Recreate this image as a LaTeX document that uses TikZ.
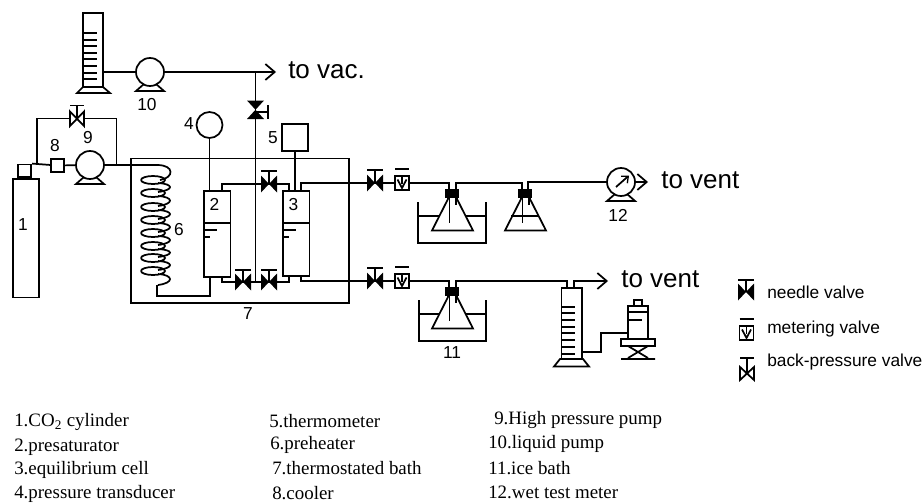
\documentclass[tikz,border=0pt]{standalone}
\usepackage{fontspec}
\setmainfont{Liberation Serif}
\newfontfamily\arial{Liberation Sans}
\usetikzlibrary{arrows.meta}
\tikzset{
 pipe/.style={line width=1.3pt,line join=miter},
 arrowpipe/.style={pipe,-{Straight Barb[length=7pt,width=12pt,line width=1.3pt]}},
 lab/.style={inner sep=0pt,font=\arial\fontsize{13}{15}\selectfont},
 big/.style={inner sep=0pt,anchor=west,font=\arial\fontsize{19.5}{22}\selectfont},
 leg/.style={inner sep=0pt,anchor=west,font=\arial\fontsize{13}{15}\selectfont},
 item/.style={inner sep=0pt,anchor=west,font=\fontsize{14.2}{16}\selectfont},
 pumpc/.style={circle,draw,line width=1.3pt,minimum size=21pt,inner sep=0pt,fill=white},
 box/.style={rectangle,draw,line width=1.3pt,inner sep=0pt,fill=white},
}
\newcommand{\pumpstand}[1]{\draw[pipe] ([shift={(-6,12)}]#1.center) -- ([shift={(-14,19)}]#1.center) -- ([shift={(14,19)}]#1.center) -- ([shift={(6,12)}]#1.center);}
\newcommand{\needleH}[2]{%
 \fill ([shift={(-8,-8.5)}]#1) -- ([shift={(8,8.5)}]#1) -- ([shift={(8,-8.5)}]#1) -- ([shift={(-8,8.5)}]#1) -- cycle;
 \draw[pipe] (#1) -- ([shift={(0,-#2)}]#1) ([shift={(-8,-#2)}]#1) -- ([shift={(8,-#2)}]#1);}
\newcommand{\meterV}[1]{%
 \node[box,minimum width=10.5pt,minimum height=10.5pt] (m#1) at (#1) {};
 \draw[pipe] (m#1.north) -- ([yshift=-6.5]m#1.north) ([shift={(-7,-6.5)}]m#1.north) -- ([shift={(7,-6.5)}]m#1.north);
 \draw[pipe] ([shift={(-4.5,-3.5)}]#1) -- ([shift={(0,5)}]#1) -- ([shift={(4.5,-3.5)}]#1);}
\newcommand{\flask}[1]{%
 \draw[pipe,fill=white] ([shift={(-4,8)}]#1) -- ([shift={(-4,16)}]#1) -- ([shift={(-20,47.5)}]#1) -- ([shift={(21,47.5)}]#1) -- ([shift={(5,16)}]#1) -- ([shift={(5,8)}]#1);
 \fill ([shift={(-7,6)}]#1) rectangle ([shift={(7,15)}]#1);
 \draw[pipe] ([shift={(-2.5,15)}]#1) -- ([shift={(-2.5,40)}]#1) ([shift={(4,15)}]#1) -- ([shift={(4,22)}]#1);}
\begin{document}
\begin{tikzpicture}[x=0.75pt,y=-0.75pt]
\useasboundingbox (0,0) rectangle (923,503);
\coordinate (vp) at (255.5,72);
\coordinate (toVac) at (276,72);
\coordinate (v1) at (255.5,112);
\coordinate (vb1) at (243,282);
\coordinate (vb2) at (269,282);
\coordinate (vt) at (269,184);
\coordinate (nv1) at (375,183);
\coordinate (nv2) at (375,281);
\coordinate (mv1) at (402,183);
\coordinate (mv2) at (402,281);
% bath
\node[box,fill=none,minimum width=163.5pt,minimum height=108.5pt,anchor=north west] (bath) at (130,157.5) {};
% measuring cylinder top
\draw[pipe] (83,87) -- (83,13) -- (103,13) -- (103,87);
\draw[pipe] (83,87) -- (103,87) -- (110,93) -- (77,93) -- cycle;
\foreach \y in {33,40,46,53,59,66,73,79} \draw[pipe] (84,\y) -- (97,\y);
\node[pumpc] (p10) at (150,72) {};
\pumpstand{p10}
\coordinate (c10) at (103,72);
\draw[pipe] (c10) -- (p10);
\draw[arrowpipe] (p10) -- (toVac);
\node[big] (tv) at (288,70) {to vac.};
\node[lab] (l10) at (147,105) {10};
% cylinder 1
\node[box,minimum width=19.5pt,minimum height=89pt,anchor=north west] (cyl) at (12,178) {};
\node[box,minimum width=10pt,minimum height=9.5pt,anchor=south] (neck) at (24.5,178) {};
\node[lab] (l1) at (23,225) {1};
\node[box,minimum size=10pt] (p8) at (57.5,165.5) {};
\node[lab] (l8) at (55,146) {8};
\node[pumpc] (p9) at (90,165) {};
\pumpstand{p9}
\node[lab] (l9) at (88,138) {9};
\draw[pipe] (neck.north east) -- (p8);
\draw[pipe] (p8) -- (p9);
\draw[pipe] (37,165) -- (37,118.5) -- (116.5,118.5) -- (116.5,165);
% back pressure valve
\coordinate (bp) at (77,118.5);
\draw[pipe,fill=white] (70,111.5) -- (84,126) -- (84,111.5) -- (70,126) -- cycle;
\draw[pipe] (bp) -- (77,105.5) (70,105.5) -- (84,105.5);
% coil
\draw[pipe] (p9) -- (157,165) .. controls (175,165) and (174,178) .. (160,180);
\foreach \y/\n in {180/193,193/207,207/220,220/233,233/246,246/258,258/271,271/286}
 \draw[pipe] (153,\y) ++(-12,0) arc[start angle=180,end angle=-180,x radius=12,y radius=4]
   (158,{\y+3}) .. controls (174,{\y+4}) and (174,{\n-3}) .. (158,{\n-1});
\draw[pipe] (157,285) -- (157,296) -- (210,296) -- (210,276.5);
\node[lab] (l6) at (179,230) {6};
% vessels
\node[box,minimum width=20pt,minimum height=64.5pt,anchor=north west] (v2) at (203,190) {};
\node[box,minimum width=20pt,minimum height=64pt,anchor=north west] (v3) at (282,190) {};
\draw[pipe] (203,223) -- (229.5,223) (282,223) -- (308.5,223);
\draw[pipe] (203,230) -- (217,230) (203,237) -- (210,237) (282,230) -- (296,230) (282,237) -- (289,237);
\node[lab] (l2) at (214.5,204.5) {2};
\node[lab] (l3) at (293.5,204.5) {3};
\node[circle,draw,line width=1.3pt,minimum size=19.5pt,inner sep=0pt] (g4) at (209.5,125) {};
\node[lab] (l4) at (189,124) {4};
\node[box,minimum size=20pt] (t5) at (295,137.5) {};
\node[lab] (l5) at (273,138) {5};
\draw[pipe] (g4) -- (209.5,190);
\draw[pipe] (t5) -- (295,190);
% central vertical
\draw[pipe] (vp) -- (255.5,282);
\fill (247,100.5) -- (264,100.5) -- (247,119) -- (264,119) -- cycle;
\draw[pipe] (v1) -- (268,112) (268,105) -- (268,118.5);
% links between vessels
\draw[pipe] (222,190) -- (222,184) -- (289,184) -- (289,190);
\draw[pipe] (222,276) -- (222,282) -- (289,282) -- (289,276);
\needleH{vt}{13}
\needleH{vb1}{12}
\needleH{vb2}{12}
% outlet lines
\draw[pipe] (301,190) -- (301,183) -- (nv1) -- (449,183) -- (449,189);
\draw[pipe] (301,276) -- (301,281) -- (nv2) -- (449,281) -- (449,287);
\needleH{nv1}{13}
\needleH{nv2}{13}
\meterV{mv1}
\meterV{mv2}
% upper bath & flask
\draw[pipe] (418,202) -- (418,243) -- (486,243) -- (486,202);
\draw[pipe] (418,216) -- (486,216);
\flask{452,183}
% second flask
\draw[pipe] (456,189) -- (456,183) -- (522,183) -- (522,189);
\flask{525,183}
\draw[pipe] (511,216) -- (539,216);
\node[pumpc] (p12) at (621,182) {};
\pumpstand{p12}
\draw[pipe] (528,189) -- (528,182) -- (p12);
\draw[pipe,-{Straight Barb[length=4pt,width=7pt,line width=1pt]}] (616,187) -- (629,175.5);
\coordinate (toV1) at (648,182);
\draw[arrowpipe] (p12.east) -- (toV1);
\node[big] (tv1) at (661,180) {to vent};
\node[lab] (l12) at (618,215) {12};
% lower bath & flask
\draw[pipe] (419,300) -- (419,341) -- (486,341) -- (486,300);
\draw[pipe] (419,314) -- (486,314);
\flask{452,281}
\node[lab] (l11) at (452,353) {11};
\node[lab] (l7) at (248,314) {7};
% wet cylinder
\draw[pipe] (456,287) -- (456,281) -- (567,281) -- (567,288);
\coordinate (toV2) at (608,281);
\draw[arrowpipe] (574,288) -- (574,281) -- (toV2);
\node[big] (tv2) at (621,279) {to vent};
\draw[pipe] (561.5,359) -- (561.5,288) -- (582,288) -- (582,359);
\foreach \y in {307,313,320,327,333,340,347,354} \draw[pipe] (562,\y) -- (575,\y);
\draw[pipe] (560,359) -- (583,359) -- (589,366.5) -- (554,366.5) -- cycle;
\draw[pipe] (582,352) -- (601,352) -- (601,333) -- (628,333);
\draw[pipe] (628,339) -- (628,306) -- (648,306) -- (648,339);
\draw[pipe] (628,312) -- (648,312) (628,320) -- (642,320);
\draw[pipe] (634,306) -- (634,300) -- (642,300) -- (642,306);
\draw[pipe] (621,339) rectangle (655,346);
\draw[pipe] (628,346) -- (648,358) (648,346) -- (628,358) (621,359) -- (655,359);
% legend
\needleH{746,292}{12}
\node[leg] (ln) at (767,292) {needle valve};
\coordinate (mleg) at (746.5,333);
\meterV{mleg}
\node[leg] (lm) at (767,329) {metering valve};
\coordinate (bleg) at (747,373);
\draw[pipe,fill=white] (740,367) -- (754,380) -- (754,367) -- (740,380) -- cycle;
\draw[pipe] (bleg) -- (747,358) (740,358) -- (754,358);
\node[leg] (lb) at (767,362) {back-pressure valve};
% list
\node[item] (a1) at (14,422) {1.CO$_{\mathrm 2}$ cylinder};
\node[item] (a2) at (14,447) {2.presaturator};
\node[item] (a3) at (14,470) {3.equilibrium cell};
\node[item] (a4) at (14,494) {4.pressure transducer};
\node[item] (b1) at (269,421) {5.thermometer};
\node[item] (b2) at (270,445) {6.preheater};
\node[item] (b3) at (272,468) {7.thermostated bath};
\node[item] (b4) at (272,493) {8.cooler};
\node[item] (c1) at (494,420) {9.High pressure pump};
\node[item] (c2) at (488,444) {10.liquid pump};
\node[item] (c3) at (488,468) {11.ice bath};
\node[item] (c4) at (488,492) {12.wet test meter};
\end{tikzpicture}
\end{document}
